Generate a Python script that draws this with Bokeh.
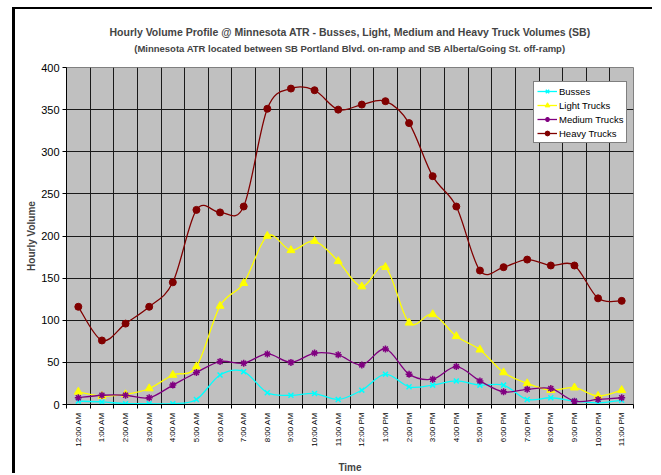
import numpy as np
from bokeh.plotting import figure
from bokeh.models import (FixedTicker, Range1d, Legend, LegendItem, Title,
                          ColumnDataSource)
from bokeh.embed import file_html
from bokeh.resources import INLINE

hours = ["12:00 AM", "1:00 AM", "2:00 AM", "3:00 AM", "4:00 AM", "5:00 AM",
         "6:00 AM", "7:00 AM", "8:00 AM", "9:00 AM", "10:00 AM", "11:00 AM",
         "12:00 PM", "1:00 PM", "2:00 PM", "3:00 PM", "4:00 PM", "5:00 PM",
         "6:00 PM", "7:00 PM", "8:00 PM", "9:00 PM", "10:00 PM", "11:00 PM"]
busses = [4, 3, 1, 1, 1, 6, 35, 39, 14, 11, 13, 6, 17, 36, 21, 23, 28, 23, 23, 6, 8, 4, 2, 5]
light = [15, 10, 12, 19, 35, 45, 117, 144, 200, 183, 194, 170, 140, 163, 97, 107, 81, 65, 38, 25, 17, 20, 10, 17]
medium = [8, 11, 11, 8, 23, 38, 51, 49, 60, 50, 61, 59, 47, 66, 36, 30, 45, 28, 15, 18, 19, 4, 6, 8]
heavy = [116, 76, 96, 116, 145, 231, 228, 235, 351, 375, 373, 350, 356, 360, 334, 271, 235, 159, 163, 172, 165, 165, 126, 123]
y_ticks = [0, 50, 100, 150, 200, 250, 300, 350, 400]
title_text = "Hourly Volume Profile @ Minnesota ATR - Busses, Light, Medium and Heavy Truck Volumes (SB)"
subtitle_text = "(Minnesota ATR located between SB Portland Blvd. on-ramp and SB Alberta/Going St. off-ramp)"

FONT = "Liberation Sans"

p = figure(width=640, height=466, output_backend="svg", toolbar_location=None,
           x_range=Range1d(-0.5, len(hours) - 0.5), y_range=Range1d(0, 400),
           min_border_left=51, min_border_right=22, min_border_top=58, min_border_bottom=70)
p.styles = {"margin-left": "12px", "margin-top": "7px",
            "border-left": "3px solid black", "border-top": "2px solid black"}
p.background_fill_color = "#C0C0C0"
p.border_fill_color = "white"
p.outline_line_color = "#808080"

# main title is the outer one; subtitle (added later) sits nearest the frame,
# with an empty second line leaving the gap above the plot area
p.title.text = title_text
p.title.text_font = FONT
p.title.text_font_size = "10.5px"
p.title.text_font_style = "bold"
p.title.align = "center"
p.title.offset = 4
p.title.standoff = 0
sub_title = Title(text=subtitle_text + "\n ", text_font=FONT, text_font_size="9.5px",
                  text_font_style="bold", align="center", offset=4, standoff=6)
p.add_layout(sub_title, "above")

xs = np.arange(len(hours), dtype=float)
halves = [i - 0.5 for i in range(len(hours) + 1)]

p.xgrid.ticker = FixedTicker(ticks=halves)
p.ygrid.ticker = FixedTicker(ticks=y_ticks)
for g in (p.xgrid[0], p.ygrid[0]):
    g.grid_line_color = "#1a1a1a"
    g.grid_line_width = 1

xa = p.xaxis[0]
xa.ticker = FixedTicker(ticks=list(range(len(hours))), minor_ticks=halves)
xa.major_label_overrides = {i: h for i, h in enumerate(hours)}
xa.major_label_orientation = np.pi / 2
xa.major_tick_out = 0
xa.major_tick_in = 0
xa.minor_tick_out = 4
xa.minor_tick_in = 0
xa.minor_tick_line_color = "black"
xa.major_label_text_font = FONT
xa.major_label_text_font_size = "8px"
xa.major_label_text_color = "black"
xa.major_label_standoff = 4
xa.axis_label = "Time"
xa.axis_label_text_font = FONT
xa.axis_label_text_font_size = "10px"
xa.axis_label_text_font_style = "bold"
xa.axis_label_standoff = 12
xa.axis_line_color = "black"

ya = p.yaxis[0]
ya.ticker = FixedTicker(ticks=y_ticks)
ya.major_tick_out = 4
ya.major_tick_in = 0
ya.minor_tick_out = 0
ya.minor_tick_in = 0
ya.major_label_text_font = FONT
ya.major_label_text_font_size = "11px"
ya.major_label_text_color = "black"
ya.major_label_standoff = 3
ya.axis_label = "Hourly Volume"
ya.axis_label_text_font = FONT
ya.axis_label_text_font_size = "10px"
ya.axis_label_text_font_style = "bold"
ya.axis_label_standoff = 1
ya.axis_line_color = "black"


def bez_source(xv, yv):
    X = np.asarray(xv, float)
    Y = np.asarray(yv, float)
    n = len(X)
    Xp = np.concatenate([[X[0]], X, [X[-1]]])
    Yp = np.concatenate([[Y[0]], Y, [Y[-1]]])
    return ColumnDataSource(dict(
        x0=X[:-1], y0=Y[:-1], x1=X[1:], y1=Y[1:],
        cx0=Xp[1:n] + (Xp[2:n + 1] - Xp[0:n - 1]) / 6,
        cy0=Yp[1:n] + (Yp[2:n + 1] - Yp[0:n - 1]) / 6,
        cx1=Xp[2:n + 1] - (Xp[3:n + 2] - Xp[1:n]) / 6,
        cy1=Yp[2:n + 1] - (Yp[3:n + 2] - Yp[1:n]) / 6,
    ))


series = [
    ("Busses", busses, "#00FFFF", "x", 7),
    ("Light Trucks", light, "#FFFF00", "triangle", 8),
    ("Medium Trucks", medium, "#800080", "asterisk", 7),
    ("Heavy Trucks", heavy, "#800000", "circle", 7),
]
items = []
for name, vals, col, mk, sz in series:
    src = bez_source(xs, vals)
    b = p.bezier(x0="x0", y0="y0", x1="x1", y1="y1", cx0="cx0", cy0="cy0",
                 cx1="cx1", cy1="cy1", source=src, line_color=col, line_width=1.3)
    s = p.scatter(xs, vals, marker=mk, size=sz, fill_color=col, line_color=col,
                  line_width=1.5 if mk in ("x", "asterisk") else 1)
    items.append(LegendItem(label=name, renderers=[b, s]))

legend = Legend(items=items, location=(467, 261))
legend.label_text_font = FONT
legend.label_text_font_size = "9.5px"
legend.label_text_color = "black"
legend.glyph_width = 20
legend.glyph_height = 12
legend.label_height = 12
legend.spacing = 2
legend.padding = 3
legend.margin = 0
legend.label_standoff = 2
legend.border_line_color = "black"
legend.border_line_width = 1
legend.background_fill_color = "white"
legend.background_fill_alpha = 1
p.add_layout(legend, "center")

open("out.html", "w").write(file_html(p, INLINE))
